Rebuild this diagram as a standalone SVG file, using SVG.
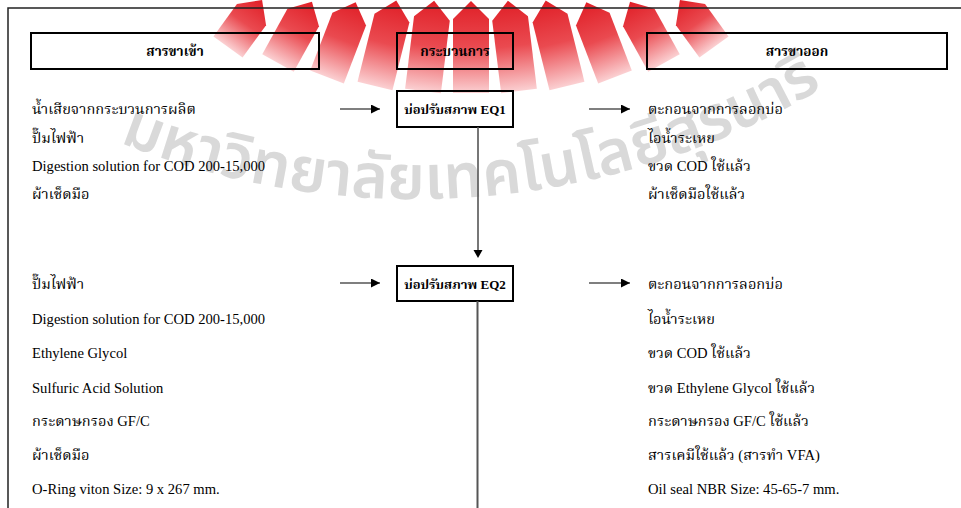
<svg xmlns="http://www.w3.org/2000/svg" width="961" height="508" viewBox="0 0 961 508">
  <defs>
    <linearGradient id="rg" x1="0" y1="0" x2="0" y2="1">
      <stop offset="0" stop-color="#e01f27"/>
      <stop offset="0.5" stop-color="#ea4a50"/>
      <stop offset="1" stop-color="#fbd0d2"/>
    </linearGradient>
    <marker id="ah" viewBox="0 0 10 10" refX="10" refY="5" markerWidth="9" markerHeight="9" markerUnits="userSpaceOnUse" orient="auto">
      <path d="M0,0 L10,5 L0,10 z" fill="#000"/>
    </marker>
    <path id="arc" d="M90,130 A801,801 0 0,0 850,71"/>
  </defs>
  <style>
    .frame{fill:none;stroke:#222;stroke-width:1.5}
    .box{fill:none;stroke:#000;stroke-width:2}
    .hd{font-family:"Liberation Serif","Noto Serif Thai","Noto Sans Thai",serif;font-size:13.5px;font-weight:bold;fill:#000;text-anchor:middle}
    .t{font-family:"Liberation Serif","Noto Serif Thai","Noto Sans Thai",serif;font-size:14.6px;fill:#000}
    .arr{stroke:#000;stroke-width:1.2;fill:none;marker-end:url(#ah)}
    .vl{stroke:#555;stroke-width:1.6;fill:none}
    .ray{fill:url(#rg)}
    .wm{font-family:"Noto Sans Thai","Noto Sans","DejaVu Sans",sans-serif;font-size:62px;font-weight:600;fill:#b0b0b0;fill-opacity:0.48}
  </style>
  <rect width="961" height="508" fill="#fff"/>

  <g id="watermark-logo">
    <polygon class="ray" transform="translate(228,47) rotate(36)" points="-18,0 -18,-40 0,-58 18,-40 18,0"/>
    <polygon class="ray" transform="translate(278,63) rotate(29)" points="-18,0 -18,-52 0,-70 18,-52 18,0"/>
    <polygon class="ray" transform="translate(327,77) rotate(21)" points="-18,0 -18,-62 0,-80 18,-62 18,0"/>
    <polygon class="ray" transform="translate(375,86) rotate(14)" points="-18,0 -18,-70 0,-88 18,-70 18,0"/>
    <polygon class="ray" transform="translate(423,91) rotate(7)" points="-18,0 -18,-73 0,-91 18,-73 18,0"/>
    <polygon class="ray" transform="translate(471,93)" points="-18,0 -18,-74 0,-92 18,-74 18,0"/>
    <polygon class="ray" transform="translate(519,91) rotate(-7)" points="-18,0 -18,-73 0,-91 18,-73 18,0"/>
    <polygon class="ray" transform="translate(567,86) rotate(-14)" points="-18,0 -18,-70 0,-88 18,-70 18,0"/>
    <polygon class="ray" transform="translate(615,77) rotate(-21)" points="-18,0 -18,-62 0,-80 18,-62 18,0"/>
    <polygon class="ray" transform="translate(664,63) rotate(-29)" points="-18,0 -18,-52 0,-70 18,-52 18,0"/>
    <polygon class="ray" transform="translate(714,47) rotate(-36)" points="-18,0 -18,-40 0,-58 18,-40 18,0"/>
  </g>
  <g id="watermark-text">
    <text class="wm"><textPath href="#arc" startOffset="50%" text-anchor="middle">มหาวิทยาลัยเทคโนโลยีสุรนารี</textPath></text>
  </g>

  <path class="frame" d="M8,508 L8,8 L961,8"/>

  <g id="head-in"><rect class="box" x="31" y="33" width="288" height="36"/><text class="hd" x="175" y="56">สารขาเข้า</text></g>
  <g id="head-proc"><rect class="box" x="397" y="33" width="116" height="36"/><text class="hd" x="455" y="56">กระบวนการ</text></g>
  <g id="head-out"><rect class="box" x="647" y="33" width="300" height="36"/><text class="hd" x="797" y="56">สารขาออก</text></g>

  <g id="eq1"><rect class="box" x="397" y="91" width="116" height="36"/><text class="hd" x="455" y="114" style="font-size:13px">บ่อปรับสภาพ EQ1</text></g>
  <g id="eq2"><rect class="box" x="397" y="266" width="116" height="35"/><text class="hd" x="455" y="289" style="font-size:13px">บ่อปรับสภาพ EQ2</text></g>

  <g id="in1">
    <text class="t" x="32" y="114">น้ำเสียจากกระบวนการผลิต</text>
    <text class="t" x="32" y="143">ปั๊มไฟฟ้า</text>
    <text class="t" x="32" y="171">Digestion solution for COD 200-15,000</text>
    <text class="t" x="32" y="199">ผ้าเช็ดมือ</text>
  </g>
  <g id="out1">
    <text class="t" x="648" y="114">ตะกอนจากการลอกบ่อ</text>
    <text class="t" x="648" y="143">ไอน้ำระเหย</text>
    <text class="t" x="648" y="171">ขวด COD ใช้แล้ว</text>
    <text class="t" x="648" y="199">ผ้าเช็ดมือใช้แล้ว</text>
  </g>
  <g id="in2">
    <text class="t" x="32" y="289">ปั๊มไฟฟ้า</text>
    <text class="t" x="32" y="324">Digestion solution for COD 200-15,000</text>
    <text class="t" x="32" y="358">Ethylene Glycol</text>
    <text class="t" x="32" y="393">Sulfuric Acid Solution</text>
    <text class="t" x="32" y="426">กระดาษกรอง GF/C</text>
    <text class="t" x="32" y="460">ผ้าเช็ดมือ</text>
    <text class="t" x="32" y="494">O-Ring viton Size: 9 x 267 mm.</text>
  </g>
  <g id="out2">
    <text class="t" x="648" y="289">ตะกอนจากการลอกบ่อ</text>
    <text class="t" x="648" y="324">ไอน้ำระเหย</text>
    <text class="t" x="648" y="358">ขวด COD ใช้แล้ว</text>
    <text class="t" x="648" y="393">ขวด Ethylene Glycol ใช้แล้ว</text>
    <text class="t" x="648" y="426">กระดาษกรอง GF/C ใช้แล้ว</text>
    <text class="t" x="648" y="460">สารเคมีใช้แล้ว (สารทำ VFA)</text>
    <text class="t" x="648" y="494">Oil seal NBR Size: 45-65-7 mm.</text>
  </g>

  <g id="connectors">
    <line class="arr" x1="340" y1="109" x2="380" y2="109"/>
    <line class="arr" x1="589" y1="109" x2="630" y2="109"/>
    <line class="vl" x1="478" y1="127" x2="478" y2="251"/>
    <path d="M473.5,250 L482.5,250 L478,258 z" fill="#000"/>
    <line class="arr" x1="340" y1="283" x2="380" y2="283"/>
    <line class="arr" x1="589" y1="283" x2="630" y2="283"/>
    <line class="vl" x1="477.5" y1="301" x2="477.5" y2="508" style="stroke-width:2"/>
  </g>
</svg>
